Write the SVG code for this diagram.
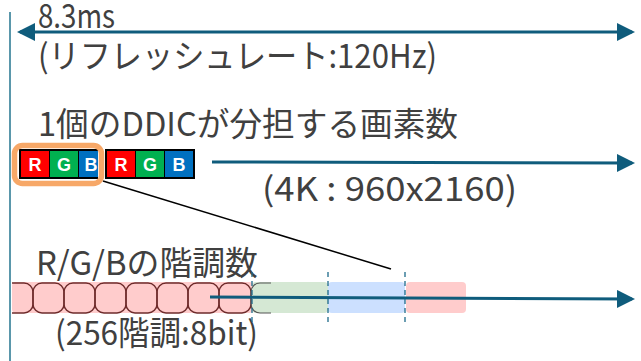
<svg xmlns="http://www.w3.org/2000/svg" width="641" height="361" viewBox="0 0 641 361">
<defs>
<style>
.t{font-family:"Noto Sans CJK JP","Noto Sans",sans-serif;fill:#404040;font-size:33px}
.c{font-family:"Liberation Sans","Noto Sans",sans-serif;font-weight:bold;fill:#fff;font-size:18px;text-anchor:middle}
.ar{stroke:#0f5c7c;stroke-width:3;fill:none}
.dash{stroke:#1d6a8a;stroke-width:1.3;stroke-dasharray:5,4;fill:none}
.cell{fill:none;stroke:#6e2b2b;stroke-width:1.4}
</style>
<marker id="ah" markerWidth="6" markerHeight="6" refX="5" refY="3" orient="auto-start-reverse" markerUnits="strokeWidth">
<path d="M0,0 L6,3 L0,6 z" fill="#0f5c7c"/>
</marker>
<clipPath id="cl"><rect x="12" y="282" width="259" height="32"/></clipPath>
</defs>
<rect width="641" height="361" fill="#fff"/>
<line x1="10" y1="12" x2="10" y2="361" stroke="#5a97ab" stroke-width="2"/>

<g id="period">
<text class="t" x="38" y="28" textLength="77" lengthAdjust="spacingAndGlyphs">8.3ms</text>
<text class="t" x="38" y="68" textLength="399" lengthAdjust="spacingAndGlyphs">(リフレッシュレート:120Hz)</text>
</g>

<g id="pixels">
<text class="t" x="38" y="136" textLength="420" lengthAdjust="spacingAndGlyphs">1個のDDICが分担する画素数</text>
<rect x="19" y="149" width="79" height="30" fill="#000"/>
<rect x="21" y="151" width="28" height="26" fill="#ff0000"/>
<rect x="50" y="151" width="28" height="26" fill="#00b050"/>
<rect x="79" y="151" width="19" height="26" fill="#0070c0"/>
<text class="c" x="35" y="171">R</text>
<text class="c" x="64" y="171">G</text>
<text class="c" x="91" y="171">B</text>
<rect x="105" y="149" width="90" height="30" fill="#000"/>
<rect x="107" y="151" width="28" height="26" fill="#ff0000"/>
<rect x="136" y="151" width="28" height="26" fill="#00b050"/>
<rect x="165" y="151" width="28" height="26" fill="#0070c0"/>
<text class="c" x="121" y="171">R</text>
<text class="c" x="150" y="171">G</text>
<text class="c" x="179" y="171">B</text>
<rect x="14.5" y="145.5" width="87" height="38" rx="8" fill="none" stroke="#f7a868" stroke-width="5.5"/>
<text class="t" x="262" y="201" textLength="255" lengthAdjust="spacingAndGlyphs">(4K : 960x2160)</text>
</g>

<g id="gradation">
<text class="t" x="36" y="275" textLength="222" lengthAdjust="spacingAndGlyphs">R/G/Bの階調数</text>
<rect x="12" y="282" width="241" height="31" rx="4" fill="#ffcccc"/>
<rect x="252" y="282" width="76" height="31" rx="4" fill="#d5e8d4"/>
<rect x="328" y="282" width="77" height="31" rx="4" fill="#cce0ff"/>
<rect x="406" y="282" width="60" height="31" rx="4" fill="#ffcccc"/>
<g clip-path="url(#cl)">
<rect class="cell" x="2" y="283" width="31" height="30" rx="9"/>
<rect class="cell" x="33" y="283" width="31" height="30" rx="9"/>
<rect class="cell" x="64" y="283" width="31" height="30" rx="9"/>
<rect class="cell" x="95" y="283" width="31" height="30" rx="9"/>
<rect class="cell" x="126" y="283" width="31" height="30" rx="9"/>
<rect class="cell" x="157" y="283" width="31" height="30" rx="9"/>
<rect class="cell" x="188" y="283" width="31" height="30" rx="9"/>
<rect class="cell" x="219" y="283" width="32" height="30" rx="9"/>
<rect x="251" y="283" width="31" height="30" rx="9" fill="none" stroke="#555" stroke-width="1.2"/>
</g>
<text class="t" x="55" y="345" textLength="203" lengthAdjust="spacingAndGlyphs">(256階調:8bit)</text>
</g>

<g id="connectors">
<line class="ar" x1="20" y1="32" x2="632" y2="32" marker-start="url(#ah)" marker-end="url(#ah)"/>
<line class="ar" x1="212" y1="162" x2="632" y2="163" marker-end="url(#ah)"/>
<line class="ar" x1="210" y1="297" x2="632" y2="299" marker-end="url(#ah)"/>
<line x1="103" y1="181" x2="391" y2="269" stroke="#000" stroke-width="1.5"/>
<line class="dash" x1="252" y1="272" x2="252" y2="324"/>
<line class="dash" x1="328" y1="272" x2="328" y2="324"/>
<line class="dash" x1="405" y1="272" x2="405" y2="324"/>
</g>
</svg>
